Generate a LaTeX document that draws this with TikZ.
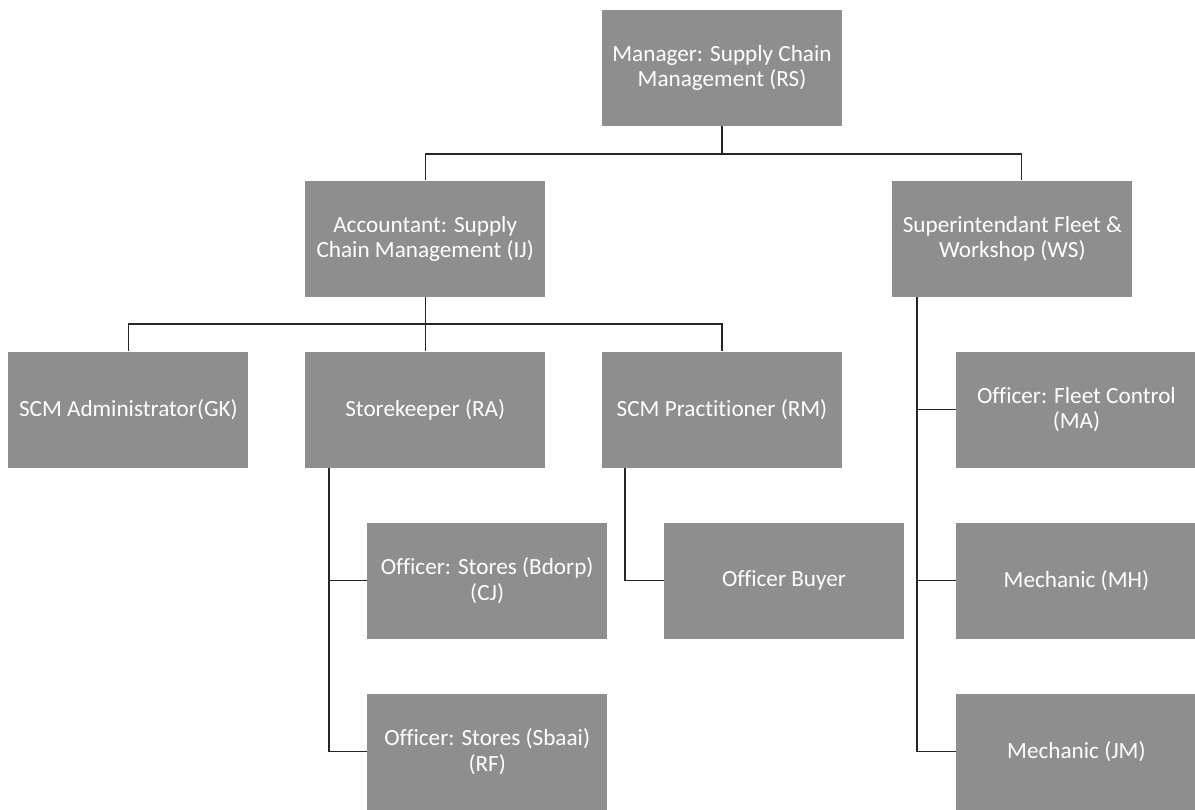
\documentclass[tikz,border=0pt]{standalone}
\usepackage{fontspec}
\setmainfont{Carlito}[Ligatures=NoCommon]
\usepackage{tikz}
\usetikzlibrary{positioning}
\definecolor{boxgray}{RGB}{142,142,142}

\begin{document}
\begin{tikzpicture}[node distance=4.275cm,
		office/.style={rectangle, fill=boxgray, text=white, minimum width=6cm, minimum height=2.9cm, inner sep=0pt, align=center, font=\fontsize{16.5}{18}\selectfont},
		link/.style={line width=0.9pt, draw=black!85}]
		\useasboundingbox (0,0) rectangle (29.875,-20.225);

		\node[office] (rs) at (18.05,-1.69) {Manager: Supply Chain\\Management (RS)};
		\node[office] (ij) [below of=rs, xshift=-7.42cm] {Accountant: Supply\\Chain Management (IJ)};
		\node[office] (ws) [below of=rs, xshift=7.26cm] {Superintendant Fleet \&\\Workshop (WS)};

		\node[office] (ra) [below of=ij] {Storekeeper (RA)};
		\node[office] (gk) [left of=ra, node distance=7.42cm] {SCM Administrator(GK)};
		\node[office] (rm) [right of=ra, node distance=7.42cm] {SCM Practitioner (RM)};
		\node[office] (ma) [below of=ws, xshift=1.6cm] {Officer: Fleet Control\\(MA)};

		\node[office] (cj) [below of=ra, xshift=1.55cm] {Officer: Stores (Bdorp)\\(CJ)};
		\node[office] (buyer) [below of=rm, xshift=1.55cm] {Officer Buyer};
		\node[office] (mh) [below of=ma] {Mechanic (MH)};
		\node[office] (rf) [below of=cj] {Officer: Stores (Sbaai)\\(RF)};
		\node[office] (jm) [below of=mh] {Mechanic (JM)};

		\draw[link]
		(rs.south) -- ++(0,-0.7) -| (ij.north)
		(rs.south) -- ++(0,-0.7) -| ([xshift=0.22cm]ws.north)

		(ij.south) -- ++(0,-0.675) -| (gk.north)
		(ij.south) -- ++(0,-0.675) -| (ra.north)
		(ij.south) -- ++(0,-0.675) -| (rm.north)

		([xshift=0.6cm]ra.south west) |- (cj.west)
		([xshift=0.6cm]ra.south west) |- (rf.west)

		([xshift=0.58cm]rm.south west) |- (buyer.west)

		([xshift=0.62cm]ws.south west) |- (ma.west)
		([xshift=0.62cm]ws.south west) |- (mh.west)
		([xshift=0.62cm]ws.south west) |- (jm.west)
		;
	\end{tikzpicture}
\end{document}
